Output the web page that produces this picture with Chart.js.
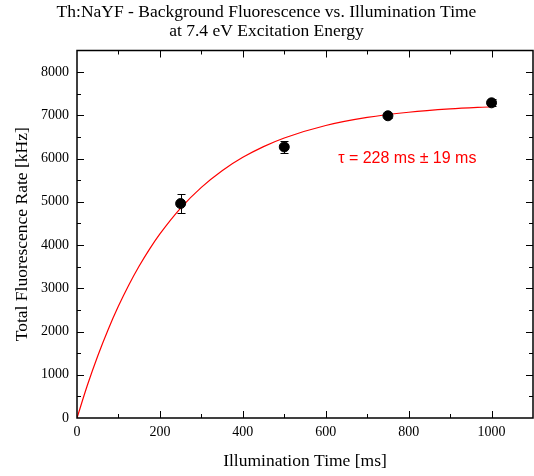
<!DOCTYPE html>
<html>
<head>
<meta charset="utf-8">
<script src="https://cdn.jsdelivr.net/npm/chart.js@4"></script>
<style>
html, body { margin: 0; padding: 0; background: #fff; }
#wrap { width: 534px; height: 476px; }
</style>
</head>
<body>
<div id="wrap"><canvas id="fluoChart" width="534" height="476"></canvas></div>
<script>
// measured points
var timeMs = [250, 500, 750, 1000];
var rateKHz = [4960, 6270, 6990, 7290];
var rateErr = [210, 130, 40, 80];

// fit curve
var fitTime = [0, 25, 50, 75, 100, 125, 150, 175, 200, 250, 300, 350, 400, 450, 500, 600, 700, 800, 900, 1000];
var fitRate = [0, 757, 1435, 2043, 2588, 3076, 3514, 3906, 4257, 4855, 5334, 5720, 6029, 6277, 6477, 6765, 6952, 7072, 7149, 7199];

// tick labels
var xTicks = [0, 200, 400, 600, 800, 1000];
var yTicks = [0, 1000, 2000, 3000, 4000, 5000, 6000, 7000, 8000];

var fitLabel = "\u03C4 = 228 ms \u00B1 19 ms";
var serif = "'Liberation Serif', 'Times New Roman', serif";

// frame, inward ticks, error bars, fit label
var framePlugin = {
  id: 'frame',
  afterDatasetsDraw: function(chart) {
    var ctx = chart.ctx, a = chart.chartArea;
    var xs = chart.scales.x, ys = chart.scales.y;
    ctx.save();
    ctx.strokeStyle = '#000';
    ctx.lineWidth = 1.5;
    ctx.strokeRect(a.left, a.top, a.right - a.left, a.bottom - a.top);
    ctx.lineWidth = 1;
    ctx.beginPath();
    for (var v = 100; v < 1100; v += 100) {
      var px = Math.round(xs.getPixelForValue(v)) + 0.5;
      var len = (v % 200 === 0) ? 7 : 4;
      ctx.moveTo(px, a.bottom); ctx.lineTo(px, a.bottom - len);
      ctx.moveTo(px, a.top); ctx.lineTo(px, a.top + len);
    }
    for (var w = 500; w < 8500; w += 500) {
      var py = Math.round(ys.getPixelForValue(w)) + 0.5;
      var l2 = (w % 1000 === 0) ? 7 : 4;
      ctx.moveTo(a.left, py); ctx.lineTo(a.left + l2, py);
      ctx.moveTo(a.right, py); ctx.lineTo(a.right - l2, py);
    }
    ctx.stroke();

    // error bars
    ctx.beginPath();
    for (var i = 0; i < timeMs.length; i++) {
      var cx = Math.round(xs.getPixelForValue(timeMs[i])) + 0.5;
      var yt = Math.round(ys.getPixelForValue(rateKHz[i] + rateErr[i])) + 0.5;
      var yb = Math.round(ys.getPixelForValue(rateKHz[i] - rateErr[i])) + 0.5;
      ctx.moveTo(cx, yt); ctx.lineTo(cx, yb);
      ctx.moveTo(cx - 4, yt); ctx.lineTo(cx + 4, yt);
      ctx.moveTo(cx - 4, yb); ctx.lineTo(cx + 4, yb);
    }
    ctx.stroke();

    ctx.fillStyle = '#ff0000';
    ctx.font = "16px 'Liberation Sans', Arial, sans-serif";
    ctx.textAlign = 'left';
    ctx.textBaseline = 'middle';
    ctx.fillText(fitLabel, xs.getPixelForValue(630), ys.getPixelForValue(6010));
    ctx.restore();
  }
};

var ctxF = document.getElementById('fluoChart').getContext('2d');
var fluoChart = new Chart(ctxF, {
  type: 'scatter',
  data: {
    datasets: [{
      label: 'Fit',
      type: 'line',
      data: fitTime.map(function(t, i) { return { x: t, y: fitRate[i] }; }),
      borderColor: '#ff0000',
      borderWidth: 1.2,
      pointRadius: 0,
      cubicInterpolationMode: 'monotone',
      fill: false,
      order: 2
    }, {
      label: 'Background fluorescence',
      data: timeMs.map(function(t, i) { return { x: t, y: rateKHz[i] }; }),
      backgroundColor: '#000',
      borderColor: '#000',
      pointRadius: 5,
      order: 1
    }]
  },
  options: {
    responsive: false,
    animation: false,
    layout: { autoPadding: false, padding: { left: 0, right: 1, top: 0, bottom: 0 } },
    plugins: {
      legend: { display: false },
      tooltip: { enabled: false },
      title: {
        display: true,
        text: ['Th:NaYF - Background Fluorescence vs. Illumination Time', 'at 7.4 eV Excitation Energy'],
        color: '#000',
        font: { family: serif, size: 17.5, weight: 'normal', lineHeight: 1.1 },
        padding: { top: 3, bottom: 9 }
      }
    },
    scales: {
      x: {
        type: 'linear',
        min: 0,
        max: 1100,
        grid: { display: false, drawTicks: false },
        border: { display: false },
        afterBuildTicks: function(s) { s.ticks = xTicks.map(function(v) { return { value: v }; }); },
        ticks: { color: '#000', padding: 6, font: { family: serif, size: 14 },
                 callback: function(v) { return String(v); } },
        title: { display: true, text: 'Illumination Time [ms]', color: '#000',
                 font: { family: serif, size: 17.5 }, padding: { top: 4, bottom: 4 } },
        afterFit: function(s) { s.height = 58; s.paddingRight = 0; s.paddingLeft = 0; }
      },
      y: {
        type: 'linear',
        min: 0,
        max: 8500,
        grid: { display: false, drawTicks: false },
        border: { display: false },
        afterBuildTicks: function(s) { s.ticks = yTicks.map(function(v) { return { value: v }; }); },
        ticks: { color: '#000', padding: 8, font: { family: serif, size: 14 },
                 callback: function(v) { return String(v); } },
        title: { display: true, text: 'Total Fluorescence Rate [kHz]', color: '#000',
                 font: { family: serif, size: 17.5 }, padding: { top: 12, bottom: 6 } },
        afterFit: function(s) { s.width = 77; s.paddingTop = 0; s.paddingBottom = 0; }
      }
    }
  },
  plugins: [framePlugin]
});
</script>
</body>
</html>
